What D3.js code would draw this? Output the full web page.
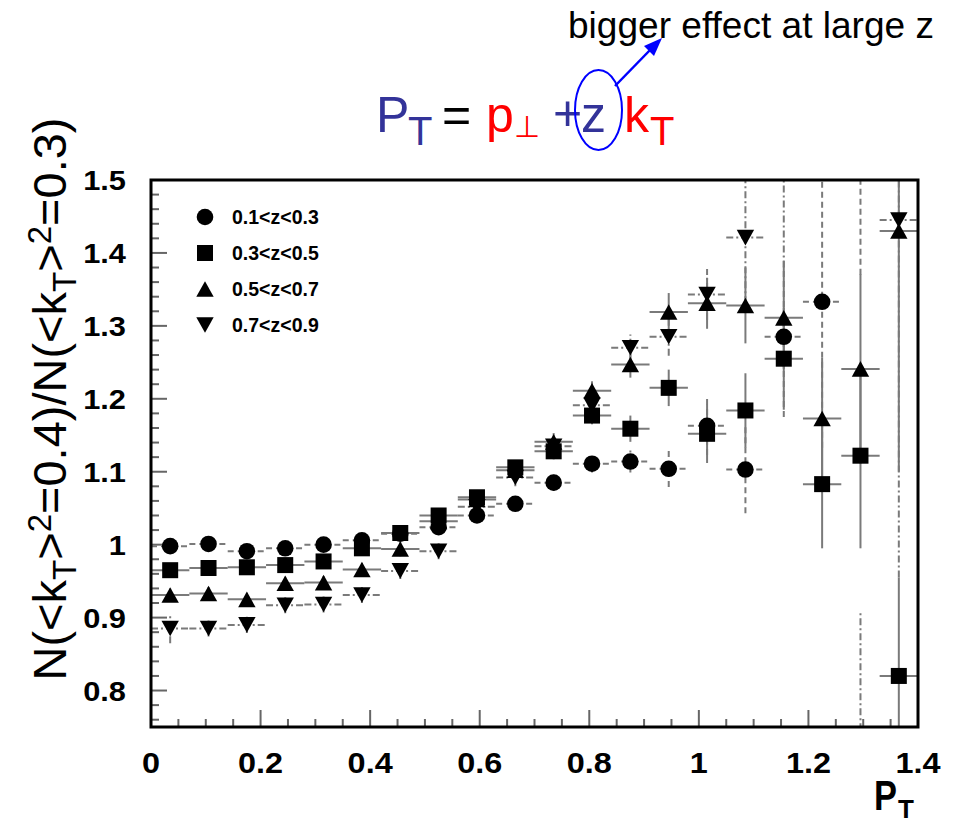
<!DOCTYPE html>
<html><head><meta charset="utf-8">
<script src="https://cdn.jsdelivr.net/npm/d3@7"></script>
<style>body{margin:0;background:#fff} svg{display:block}</style>
</head><body>
<svg id="c" width="959" height="826"></svg>
<script>
// ---------- data ----------
const ptBins = [0.035,0.105,0.175,0.245,0.315,0.385,0.455,0.525,0.595,0.665,0.735,0.805,0.875,0.945,1.015,1.085,1.155,1.225,1.295,1.365];
const binHalfWidth = 0.035;
const seriesNames = ["0.1<z<0.3","0.3<z<0.5","0.5<z<0.7","0.7<z<0.9"];
const ratioZ1 = [0.998,1.001,0.991,0.995,1.000,1.006,1.015,1.024,1.040,1.056,1.085,1.111,1.114,1.104,1.163,1.103,1.285,1.333,1.62,null];
const errZ1   = [0.008,0.008,0.008,0.008,0.008,0.008,0.008,0.009,0.010,0.010,0.011,0.012,0.015,0.025,0.040,0.060,0.110,0.200,0.250,null];
const ratioZ2 = [0.965,0.968,0.969,0.972,0.977,0.995,1.016,1.040,1.065,1.106,1.128,1.177,1.159,1.215,1.152,1.184,1.255,1.083,1.122,0.820];
const errZ2   = [0.007,0.007,0.007,0.007,0.008,0.008,0.008,0.009,0.010,0.010,0.011,0.012,0.018,0.025,0.040,0.051,0.070,0.088,0.127,0.135];
const ratioZ3 = [0.931,0.933,0.925,0.947,0.948,0.966,0.994,1.032,1.062,1.102,1.141,1.211,1.247,1.319,1.331,1.328,1.311,1.173,1.241,1.430];
const errZ3   = [0.009,0.009,0.009,0.009,0.009,0.009,0.010,0.010,0.011,0.011,0.012,0.013,0.018,0.026,0.035,0.052,0.070,0.083,0.130,0.330];
const ratioZ4 = [0.885,0.885,0.890,0.917,0.918,0.931,0.964,0.991,1.052,1.092,1.135,1.191,1.270,1.285,1.343,1.421,1.60,null,0.60,1.445];
const errZ4   = [0.020,0.011,0.011,0.011,0.011,0.011,0.011,0.011,0.012,0.012,0.012,0.013,0.018,0.026,0.035,0.090,0.220,null,0.307,0.490];
const xTicks = [0,0.2,0.4,0.6,0.8,1,1.2,1.4];
const xTickLabels = ["0","0.2","0.4","0.6","0.8","1","1.2","1.4"];
const yTicks = [0.8,0.9,1,1.1,1.2,1.3,1.4,1.5];
const yTickLabels = ["0.8","0.9","1","1.1","1.2","1.3","1.4","1.5"];

const series = [
  {name: seriesNames[0], vals: ratioZ1, errs: errZ1, shape:"circle", dash:"6,4"},
  {name: seriesNames[1], vals: ratioZ2, errs: errZ2, shape:"square", dash:null},
  {name: seriesNames[2], vals: ratioZ3, errs: errZ3, shape:"up", dash:null},
  {name: seriesNames[3], vals: ratioZ4, errs: errZ4, shape:"down", dash:"7,3,2,3"}
];

// ---------- layout ----------
const svg = d3.select("#c");
const FONT = "'Liberation Sans', Arial, Helvetica, sans-serif";
const L = 151, R = 918, T = 180, B = 727;
const x = d3.scaleLinear().domain([0,1.4]).range([L,R]);
const y = d3.scaleLinear().domain([0.75,1.5]).range([B,T]);

svg.append("defs").append("clipPath").attr("id","plotclip")
  .append("rect").attr("x",L).attr("y",T).attr("width",R-L).attr("height",B-T);

// ticks (inside)
const tickG = svg.append("g").attr("stroke","#666").attr("stroke-width",2);
x.ticks(28).forEach(t=>{
  const major = xTicks.some(m=>Math.abs(m-t)<1e-6);
  if (t<=0 || t>=1.4) return;
  tickG.append("line").attr("x1",x(t)).attr("x2",x(t)).attr("y1",B).attr("y2",B-(major?17:8));
});
y.ticks(30).forEach(t=>{
  const major = yTicks.some(m=>Math.abs(m-t)<1e-6);
  if (t<=0.75 || t>=1.5) return;
  tickG.append("line").attr("x1",L).attr("x2",L+(major?16:8)).attr("y1",y(t)).attr("y2",y(t));
});

// error bars
const eg = svg.append("g").attr("clip-path","url(#plotclip)")
  .attr("stroke","#7a7a7a").attr("stroke-width",2).attr("fill","none");
series.forEach(s=>{
  s.vals.forEach((v,i)=>{
    if (v==null) return;
    const c = ptBins[i], e = s.errs[i];
    const h = eg.append("line").attr("x1",x(c-binHalfWidth)).attr("x2",x(c+binHalfWidth))
      .attr("y1",y(v)).attr("y2",y(v));
    const vl = eg.append("line").attr("x1",x(c)).attr("x2",x(c))
      .attr("y1",y(v-e)).attr("y2",y(v+e));
    if (s.dash){ h.attr("stroke-dasharray",s.dash); vl.attr("stroke-dasharray",s.dash); }
  });
});

// markers
function marker(g, shape, cx, cy){
  if (shape==="circle") return g.append("circle").attr("cx",cx).attr("cy",cy).attr("r",8.3);
  if (shape==="square") return g.append("rect").attr("x",cx-8).attr("y",cy-8).attr("width",16).attr("height",16);
  const w=8.7, hh=7.8;
  if (shape==="up") return g.append("path").attr("d",`M${cx-w},${cy+hh}L${cx+w},${cy+hh}L${cx},${cy-hh}Z`);
  return g.append("path").attr("d",`M${cx-w},${cy-hh}L${cx+w},${cy-hh}L${cx},${cy+hh}Z`);
}
const mg = svg.append("g").attr("clip-path","url(#plotclip)").attr("fill","#000");
series.slice().reverse().forEach(s=>{
  s.vals.forEach((v,i)=>{ if (v!=null) marker(mg, s.shape, x(ptBins[i]), y(v)); });
});

// frame
svg.append("rect").attr("x",L).attr("y",T).attr("width",R-L).attr("height",B-T)
  .attr("fill","none").attr("stroke","#000").attr("stroke-width",3);

// tick labels
xTicks.forEach((t,i)=>{
  svg.append("text").attr("transform",`translate(${x(t)},773) scale(1.08,1)`)
    .attr("text-anchor","middle").attr("font-family",FONT).attr("font-weight","bold")
    .attr("font-size",30).text(xTickLabels[i]);
});
yTicks.forEach((t,i)=>{
  svg.append("text").attr("transform",`translate(126,${y(t)+10}) scale(1.1,1)`)
    .attr("text-anchor","end").attr("font-family",FONT).attr("font-weight","bold")
    .attr("font-size",28).text(yTickLabels[i]);
});

// legend
const lg = svg.append("g");
series.forEach((s,i)=>{
  const cy = 217 + 36*i;
  marker(lg, s.shape, 205, cy).attr("fill","#000");
  lg.append("text").attr("x",232).attr("y",cy+6.5).attr("font-family",FONT)
    .attr("font-weight","bold").attr("font-size",19.5).text(s.name);
});

// x-axis title P_T
svg.append("text").attr("transform","translate(874,810) scale(0.82,1)")
  .attr("font-family",FONT).attr("font-weight","bold").attr("font-size",42).text("P");
svg.append("text").attr("x",898).attr("y",818)
  .attr("font-family",FONT).attr("font-weight","bold").attr("font-size",26).text("T");

// y-axis title
const yt = svg.append("text").attr("transform","translate(66,399) rotate(-90)")
  .attr("text-anchor","middle").attr("font-family",FONT).attr("font-size",47).attr("fill","#000");
const ytParts = [["N(<k",0,0],["T",33,10],[">",47,-10],["2",33,-15],["=0.4)/N(<k",47,15],
                 ["T",33,10],[">",47,-10],["2",33,-15],["=0.3)",47,15]];
ytParts.forEach(([t,sz,dy])=>{
  yt.append("tspan").attr("font-size",sz||47).attr("dy",dy).text(t);
});

// formula
const blue = "#333399", red = "#ff0000";
function ftext(txt, xx, yy, size, col){
  return svg.append("text").attr("x",xx).attr("y",yy).attr("font-family",FONT)
    .attr("font-size",size).attr("fill",col).text(txt);
}
ftext("P",376,132,50,blue);
ftext("T",408,145,40,blue);
ftext("=",442,132,50,"#000");
ftext("p",486,132,50,red);
ftext("\u22A5",514,137,30,red);
ftext("+",553,130,50,blue);
ftext("z",581,132,50,blue);
ftext("k",624,132,50,red);
ftext("T",650,145,40,red);
svg.append("ellipse").attr("cx",598.5).attr("cy",110).attr("rx",23.5).attr("ry",40)
  .attr("fill","none").attr("stroke","#0000ff").attr("stroke-width",2);
svg.append("line").attr("x1",615).attr("y1",86).attr("x2",652).attr("y2",48)
  .attr("stroke","#0000ff").attr("stroke-width",2.5);
svg.append("path").attr("d","M662,38 L644,46 L654,56 Z").attr("fill","#0000ff");
ftext("bigger effect at large z",568,38,36,"#000")
  .attr("textLength",366).attr("lengthAdjust","spacingAndGlyphs");
</script>
</body></html>
